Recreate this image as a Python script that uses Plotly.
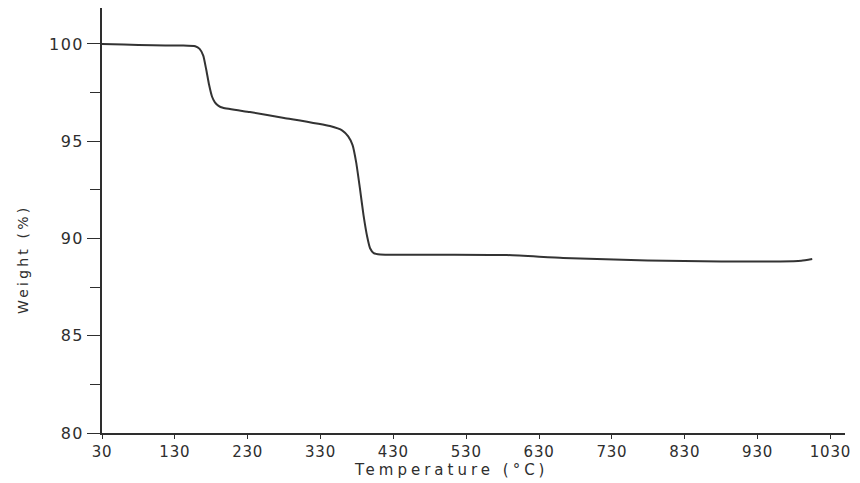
import plotly.graph_objects as go

# Thermogravimetric curve: sample weight vs. temperature
temperature_c = [30, 60, 100, 140, 158, 164, 169, 173, 177, 181, 185, 190, 196,
                 233, 280, 343, 360, 368, 374, 379, 384, 389, 394, 398, 403, 412,
                 500, 586, 663, 779, 880, 961, 990, 1005]
weight_pct = [100.0, 99.97, 99.93, 99.92, 99.88, 99.75, 99.4, 98.7, 97.9, 97.3,
              97.0, 96.82, 96.72, 96.5, 96.2, 95.78, 95.55, 95.25, 94.8, 93.9,
              92.6, 91.2, 90.1, 89.5, 89.25, 89.18, 89.17, 89.15, 89.0, 88.87,
              88.82, 88.82, 88.86, 88.95]

x_ticks = [30, 130, 230, 330, 430, 530, 630, 730, 830, 930, 1030]
y_ticks = [80, 85, 90, 95, 100]

ink = "#2e2e2e"
font_family = "DejaVu Sans"


def spaced(text, px):
    return f'<span style="letter-spacing:{px}px">{text}</span>'


fig = go.Figure()
fig.add_trace(go.Scatter(
    x=temperature_c, y=weight_pct, mode="lines",
    line=dict(color="#333333", width=2, shape="spline", smoothing=0.5),
    hoverinfo="skip", showlegend=False,
))

fig.update_layout(
    width=860, height=483,
    margin=dict(l=102, r=15, t=8, b=50),
    paper_bgcolor="white", plot_bgcolor="white",
    font=dict(family=font_family, color=ink),
    xaxis=dict(
        range=[30, 1050], tickvals=x_ticks,
        ticktext=[spaced(v, 0.8) for v in x_ticks],
        showgrid=False, zeroline=False, showline=True, linecolor=ink, linewidth=1.5,
        ticks="outside", ticklen=4, tickwidth=1.2, tickcolor=ink,
        tickfont=dict(size=15, color=ink, family=font_family),
    ),
    yaxis=dict(
        range=[80, 101.85], tickvals=y_ticks,
        ticktext=[spaced(v, 1.5) for v in y_ticks],
        showgrid=False, zeroline=False, showline=True, linecolor=ink, linewidth=1.5,
        ticks="outside", ticklen=13, tickwidth=1.2, tickcolor=ink,
        tickfont=dict(size=16, color=ink, family=font_family),
        minor=dict(dtick=2.5, tick0=80, ticks="outside", ticklen=10,
                   tickwidth=1.2, tickcolor=ink, showgrid=False),
    ),
    annotations=[
        dict(text=spaced("Temperature (°C)", 4),
             xref="paper", yref="paper", x=(451 - 102) / 743, y=-(470 - 433) / 425,
             xanchor="center", yanchor="middle", showarrow=False,
             font=dict(size=15, color=ink, family=font_family)),
        dict(text=spaced("Weight (%)", 3.2),
             xref="paper", yref="paper", x=-(102 - 23) / 743, y=(433 - 260) / 425,
             xanchor="center", yanchor="middle", showarrow=False, textangle=-90,
             font=dict(size=14, color=ink, family=font_family)),
    ],
)

fig.write_html("out.html")
